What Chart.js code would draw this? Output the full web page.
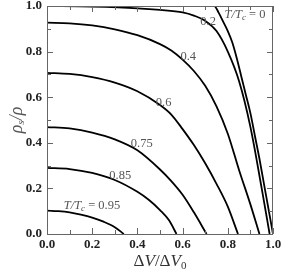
<!DOCTYPE html>
<html>
<head>
<meta charset="utf-8">
<script src="https://cdn.jsdelivr.net/npm/chart.js@4.4.1/dist/chart.umd.min.js"></script>
<style>
  html, body { margin: 0; padding: 0; background: #fff; }
  #wrap { width: 283px; height: 275px; }
</style>
</head>
<body>
<div id="wrap"><canvas id="chart"></canvas></div>
<script>
// --- curves: rho_s/rho vs dV/dV0, one per T/Tc ---
const x_T0    = [0, 0.74, 0.76, 0.78, 0.80, 0.82, 0.84, 0.86, 0.88, 0.90, 0.92, 0.94, 0.96, 0.98, 1.0];
const rho_T0  = [1.0, 1.0, 0.97, 0.93, 0.89, 0.84, 0.77, 0.69, 0.61, 0.53, 0.43, 0.33, 0.22, 0.11, 0];

const x_T02   = [0, 0.2, 0.4, 0.5, 0.6, 0.65, 0.7, 0.75, 0.8, 0.85, 0.9, 0.95, 0.985];
const rho_T02 = [1.0, 0.997, 0.99, 0.983, 0.972, 0.958, 0.935, 0.89, 0.80, 0.67, 0.47, 0.20, 0];

const x_T04   = [0, 0.1, 0.2, 0.3, 0.4, 0.5, 0.55, 0.6, 0.65, 0.7, 0.75, 0.8, 0.85, 0.9, 0.94];
const rho_T04 = [0.927, 0.924, 0.915, 0.898, 0.872, 0.833, 0.805, 0.765, 0.715, 0.65, 0.56, 0.44, 0.28, 0.13, 0];

const x_T06   = [0, 0.1, 0.2, 0.3, 0.4, 0.5, 0.55, 0.6, 0.65, 0.7, 0.75, 0.8, 0.845];
const rho_T06 = [0.707, 0.702, 0.688, 0.664, 0.626, 0.566, 0.524, 0.46, 0.39, 0.31, 0.22, 0.12, 0];

const x_T075   = [0, 0.1, 0.2, 0.3, 0.4, 0.5, 0.55, 0.6, 0.65, 0.706];
const rho_T075 = [0.469, 0.463, 0.445, 0.415, 0.367, 0.283, 0.232, 0.172, 0.095, 0];

const x_T085   = [0, 0.1, 0.2, 0.3, 0.4, 0.45, 0.5, 0.54, 0.573];
const rho_T085 = [0.290, 0.285, 0.268, 0.237, 0.185, 0.150, 0.105, 0.06, 0];

const x_T095   = [0, 0.05, 0.1, 0.15, 0.2, 0.25, 0.3, 0.34];
const rho_T095 = [0.102, 0.100, 0.095, 0.085, 0.072, 0.054, 0.030, 0];

const curveX = [x_T0, x_T02, x_T04, x_T06, x_T075, x_T085, x_T095];
const curveY = [rho_T0, rho_T02, rho_T04, rho_T06, rho_T075, rho_T085, rho_T095];

// --- in-plot curve labels ---
const labelText = ['0', '0.2', '0.4', '0.6', '0.75', '0.85', '0.95'];
const labelWithT = [true, false, false, false, false, false, true];
const labelX = [0.876, 0.713, 0.625, 0.516, 0.419, 0.324, 0.199];
const labelY = [0.96, 0.931, 0.778, 0.575, 0.395, 0.254, 0.123];

const SERIF = '"Liberation Serif", "DejaVu Serif", serif';

const toPoints = (xs, ys) => xs.map((x, i) => ({ x: x, y: ys[i] }));

// draws a row of text pieces (for sub-scripts and mixed italic)
const drawRich = (ctx, parts, cx, cy) => {
    let w = 0;
    parts.forEach(p => {
        ctx.font = (p.it ? 'italic ' : '') + p.size + 'px ' + SERIF;
        p.w = ctx.measureText(p.t).width;
        w += p.w;
    });
    let x = cx - w / 2;
    ctx.textBaseline = 'middle';
    ctx.textAlign = 'left';
    parts.forEach(p => {
        ctx.font = (p.it ? 'italic ' : '') + p.size + 'px ' + SERIF;
        ctx.fillText(p.t, x, cy + (p.dy || 0));
        x += p.w;
    });
};

const framePlugin = {
    id: 'frame',
    afterDraw(chart) {
        const { ctx, chartArea: a, scales: { x, y } } = chart;
        ctx.save();
        ctx.strokeStyle = '#666';
        ctx.lineWidth = 1;
        ctx.strokeRect(Math.round(a.left) + 0.5, Math.round(a.top) + 0.5,
            Math.round(a.right - a.left) - 1, Math.round(a.bottom - a.top));

        ctx.beginPath();
        for (let i = 0; i <= 10; i++) {
            const len = i % 2 === 0 ? 6 : 4;
            const px = Math.round(x.getPixelForValue(i / 10)) + 0.5;
            const py = Math.round(y.getPixelForValue(i / 10)) + 0.5;
            ctx.moveTo(px, a.bottom); ctx.lineTo(px, a.bottom - len);
            ctx.moveTo(px, a.top); ctx.lineTo(px, a.top + len);
            ctx.moveTo(a.left, py); ctx.lineTo(a.left + len, py);
            ctx.moveTo(a.right, py); ctx.lineTo(a.right - len, py);
        }
        ctx.stroke();

        // curve labels
        ctx.fillStyle = '#555';
        labelText.forEach((t, i) => {
            const px = x.getPixelForValue(labelX[i]);
            const py = y.getPixelForValue(labelY[i]);
            const parts = labelWithT[i]
                ? [{ t: 'T/T', it: true, size: 12.5 }, { t: 'c', it: true, size: 9, dy: 3 }, { t: ' = ' + t, size: 12.5 }]
                : [{ t: t, size: 12.5 }];
            drawRich(ctx, parts, px, py);
        });

        // axis titles
        ctx.fillStyle = '#333';
        drawRich(ctx, [
            { t: 'Δ', size: 17 }, { t: 'V', it: true, size: 17 }, { t: '/Δ', size: 17 },
            { t: 'V', it: true, size: 17 }, { t: '0', size: 11, dy: 4 }
        ], (a.left + a.right) / 2, 262);

        ctx.fillStyle = '#555';
        ctx.translate(17, (a.top + a.bottom) / 2);
        ctx.rotate(-Math.PI / 2);
        drawRich(ctx, [
            { t: 'ρ', it: true, size: 18 }, { t: 's', it: true, size: 11, dy: 4 },
            { t: '/', it: true, size: 18 }, { t: 'ρ', it: true, size: 18 }
        ], 0, 0);
        ctx.restore();
    }
};

const datasets = curveX.map((xs, i) => ({
    data: toPoints(xs, curveY[i]),
    borderColor: '#000',
    borderWidth: 1.8,
    pointRadius: 0,
    fill: false,
    cubicInterpolationMode: 'monotone'
}));

const tickFont = { family: SERIF, size: 13, weight: 'bold' };

new Chart(document.getElementById('chart'), {
    type: 'line',
    data: { datasets: datasets },
    options: {
        responsive: true,
        maintainAspectRatio: false,
        animation: false,
        layout: { padding: { left: 0, right: 10, top: 6, bottom: 0 } },
        plugins: { legend: { display: false }, tooltip: { enabled: false } },
        scales: {
            x: {
                type: 'linear', min: 0, max: 1,
                grid: { display: false, drawTicks: false }, border: { display: false },
                ticks: {
                    stepSize: 0.2, padding: 3, color: '#222',
                    font: tickFont,
                    callback: v => v.toFixed(1)
                },
                afterFit(s) { s.height = 41; s.paddingLeft = 0; s.paddingRight = 0; }
            },
            y: {
                type: 'linear', min: 0, max: 1,
                grid: { display: false, drawTicks: false }, border: { display: false },
                ticks: {
                    stepSize: 0.2, padding: 5, color: '#222',
                    font: tickFont,
                    callback: v => v.toFixed(1)
                },
                afterFit(s) { s.width = 47; s.paddingTop = 0; s.paddingBottom = 0; }
            }
        }
    },
    plugins: [framePlugin]
});
</script>
</body>
</html>
